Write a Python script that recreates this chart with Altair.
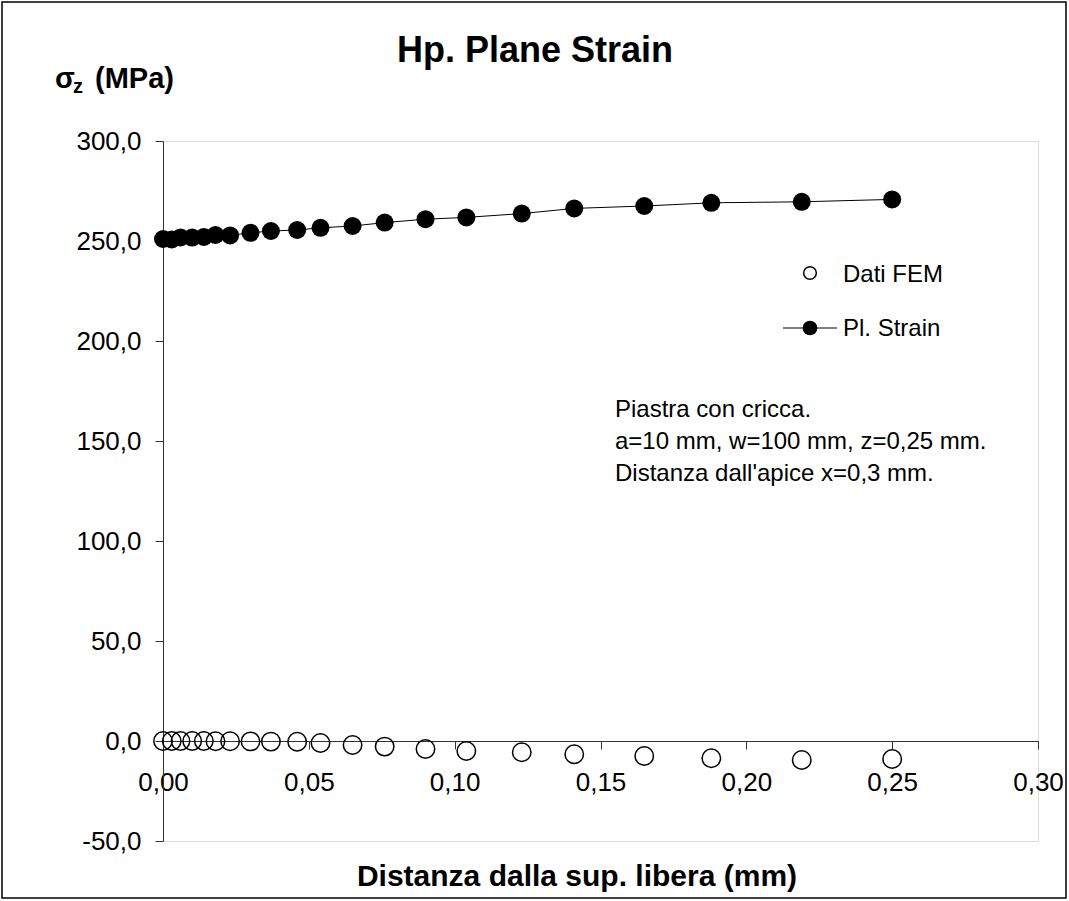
import altair as alt
import pandas as pd

# Data
x_mm = [0.000, 0.003, 0.006, 0.010, 0.014, 0.018, 0.023, 0.030, 0.037, 0.046, 0.054,
        0.065, 0.076, 0.090, 0.104, 0.123, 0.141, 0.165, 0.188, 0.219, 0.250]
sigma_fem = [0.0, 0.0, 0.0, 0.0, 0.0, -0.1, -0.1, -0.2, -0.3, -0.4, -1.0,
             -2.0, -2.8, -4.0, -5.0, -5.6, -6.6, -7.5, -8.6, -9.5, -9.0]
sigma_plstrain = [251.0, 250.8, 251.8, 251.7, 252.0, 253.0, 252.8, 254.1, 255.0, 255.5, 256.6,
                  257.5, 259.2, 260.9, 261.8, 263.7, 266.3, 267.5, 269.1, 269.6, 270.8]

x_ticks = [0.0, 0.05, 0.10, 0.15, 0.20, 0.25, 0.30]
y_ticks = [-50, 0, 50, 100, 150, 200, 250, 300]

title_text = "Hp. Plane Strain"
x_title = "Distanza dalla sup. libera (mm)"
notes = ["Piastra con cricca.", "a=10 mm, w=100 mm, z=0,25 mm.", "Distanza dall'apice x=0,3 mm."]
legend_labels = ["Dati FEM", "Pl. Strain"]

W, H = 875, 700
FONT = "Liberation Sans"

df = pd.DataFrame({"x": x_mm, "fem": sigma_fem, "ps": sigma_plstrain})
one = pd.DataFrame({"a": [0]})

xs = alt.Scale(domain=[0, 0.30], nice=False, zero=False)
ys = alt.Scale(domain=[-50, 300], nice=False, zero=False)

x_axis = alt.Axis(values=x_ticks, grid=False, title=None, orient="bottom",
                  offset=-H * 50 / 350, tickSize=8, labelPadding=20,
                  labelExpr="replace(format(datum.value, '.2f'), '.', ',')",
                  labelFont=FONT, labelFontSize=26, labelColor="black",
                  domainColor="#333333", tickColor="#333333", labelFlush=False)
y_axis = alt.Axis(values=y_ticks, grid=False, title=None, tickSize=8, labelPadding=14,
                  labelExpr="replace(replace(format(datum.value, '.1f'), '.', ','), '\u2212', '-')",
                  labelFont=FONT, labelFontSize=26, labelColor="black",
                  domainColor="#333333", tickColor="#333333")

base = alt.Chart(df)
line = base.mark_line(color="black", strokeWidth=1).encode(
    x=alt.X("x:Q", scale=xs, axis=x_axis),
    y=alt.Y("ps:Q", scale=ys, axis=y_axis),
)
filled = base.mark_point(shape="circle", filled=True, size=324, color="black", opacity=1).encode(
    x=alt.X("x:Q", scale=xs), y=alt.Y("ps:Q", scale=ys)
)
hollow = base.mark_point(shape="circle", filled=False, size=340, stroke="black",
                         strokeWidth=1.5, opacity=1).encode(
    x=alt.X("x:Q", scale=xs), y=alt.Y("fem:Q", scale=ys)
)

def txt(text, x, y, size, bold=False, align="left", baseline="alphabetic"):
    return alt.Chart(one).mark_text(text=text, font=FONT, fontSize=size,
                                    fontWeight="bold" if bold else "normal",
                                    align=align, baseline=baseline, color="black").encode(
        x=alt.value(x), y=alt.value(y))

OX, OY = 163, 141  # plot origin in page pixels
layers = [line, hollow, filled]
layers.append(txt(title_text, 535 - OX, 62 - OY, 36, bold=True, align="center"))
layers.append(txt(x_title, 577 - OX, 886 - OY, 30, bold=True, align="center"))
# y-axis title sigma_z (MPa)
layers.append(txt("σ", 55 - OX, 88 - OY, 29, bold=True))
layers.append(txt("z", 73 - OX, 93 - OY, 20, bold=True))
layers.append(txt("(MPa)", 95 - OX, 88 - OY, 29, bold=True))
# notes
for i, n in enumerate(notes):
    layers.append(txt(n, 615 - OX, 417 - OY + 32 * i, 24))
# legend
layers.append(alt.Chart(one).mark_point(shape="circle", filled=False, size=160, stroke="black",
                                        strokeWidth=1.5, opacity=1).encode(
    x=alt.value(810 - OX), y=alt.value(273 - OY)))
layers.append(txt(legend_labels[0], 843 - OX, 282 - OY, 24))
layers.append(alt.Chart(one).mark_rule(color="black", strokeWidth=1).encode(
    x=alt.value(783 - OX), x2=alt.value(837 - OX), y=alt.value(328 - OY)))
layers.append(alt.Chart(one).mark_point(shape="circle", filled=True, size=216, color="black",
                                        opacity=1).encode(
    x=alt.value(810 - OX), y=alt.value(328 - OY)))
layers.append(txt(legend_labels[1], 843 - OX, 336 - OY, 24))
# outer frame
layers.append(alt.Chart(one).mark_rect(fill=None, stroke="black", strokeWidth=1.5).encode(
    x=alt.value(2 - OX), x2=alt.value(1066 - OX), y=alt.value(2 - OY), y2=alt.value(898 - OY)))

chart = alt.layer(*layers).properties(
    width=W, height=H, autosize="none",
    padding={"left": OX, "top": OY, "right": 1069 - OX - W, "bottom": 901 - OY - H},
).configure_view(stroke=None).configure(background="white")

chart.save("out.html", embed_options={"renderer": "svg", "actions": False})
